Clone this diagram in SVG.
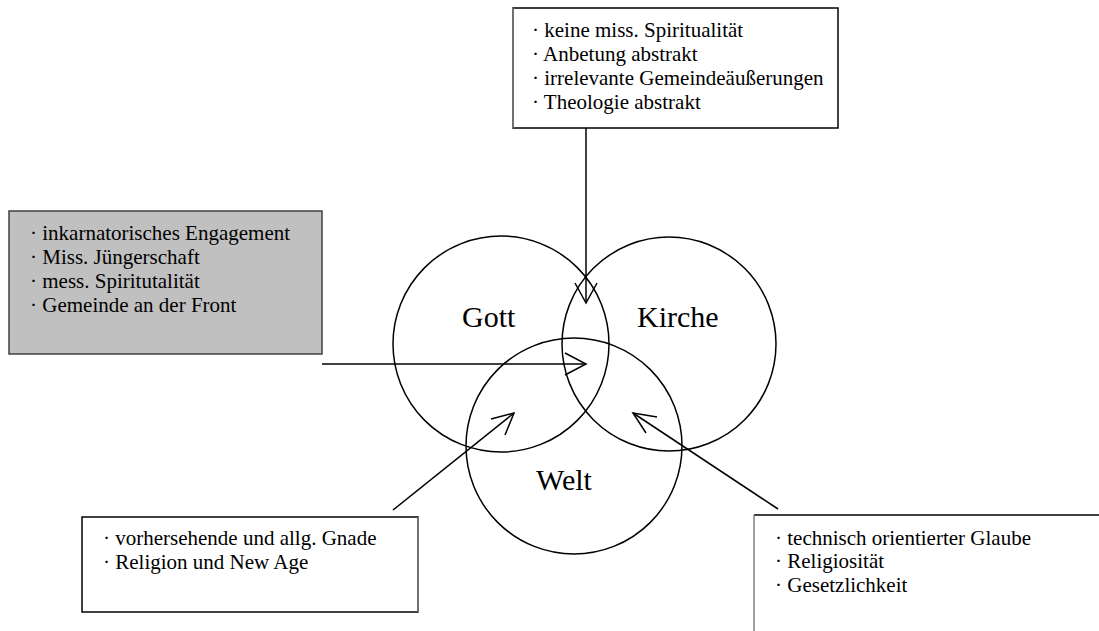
<svg xmlns="http://www.w3.org/2000/svg" width="1099" height="631" viewBox="0 0 1099 631">
<style>
.t{font-family:"Liberation Serif","Times New Roman",serif;font-size:21px;fill:#000}
.big{font-family:"Liberation Serif","Times New Roman",serif;font-size:30px;fill:#000}
.ln{stroke:#000;stroke-width:1.5;fill:none}
.gr{stroke:#808080;stroke-width:1.5;fill:none}
</style>
<rect width="1099" height="631" fill="#fff"/>
<g id="circles">
<circle cx="501" cy="344" r="108" class="ln"/>
<circle cx="669" cy="344" r="107" class="ln"/>
<circle cx="574" cy="446" r="108" class="ln"/>
<text class="big" x="462" y="327">Gott</text>
<text class="big" x="637" y="327">Kirche</text>
<text class="big" x="536" y="490">Welt</text>
</g>
<g id="box-top">
<rect x="513" y="8" width="325" height="120" fill="#fff" stroke="#000" stroke-width="1.5"/>
<line x1="513" y1="8" x2="513" y2="128" class="gr"/>
<text class="t" x="532" y="37">· keine miss. Spiritualität</text>
<text class="t" x="532" y="61">· Anbetung abstrakt</text>
<text class="t" x="532" y="85">· irrelevante Gemeindeäußerungen</text>
<text class="t" x="532" y="109">· Theologie abstrakt</text>
</g>
<g id="box-left">
<rect x="9" y="211" width="313" height="143" fill="#c0c0c0" stroke="#404040" stroke-width="1.5"/>
<text class="t" x="30" y="240">· inkarnatorisches Engagement</text>
<text class="t" x="30" y="264">· Miss. Jüngerschaft</text>
<text class="t" x="30" y="288">· mess. Spiritutalität</text>
<text class="t" x="30" y="312">· Gemeinde an der Front</text>
</g>
<g id="box-bottom-left">
<rect x="82" y="517" width="336" height="95" fill="#fff" stroke="#000" stroke-width="1.5"/>
<line x1="418" y1="517" x2="418" y2="612" class="gr"/>
<text class="t" x="103" y="545">· vorhersehende und allg. Gnade</text>
<text class="t" x="103" y="569">· Religion und New Age</text>
</g>
<g id="box-bottom-right">
<line x1="754" y1="515" x2="1099" y2="515" class="ln"/>
<line x1="754" y1="515" x2="754" y2="631" class="gr"/>
<text class="t" x="775" y="545">· technisch orientierter Glaube</text>
<text class="t" x="775" y="568">· Religiosität</text>
<text class="t" x="775" y="592">· Gesetzlichkeit</text>
</g>
<g id="connectors">
<line x1="586" y1="128" x2="586" y2="303" class="ln"/>
<polyline points="575,283 586,303 597,283" class="ln"/>
<line x1="322" y1="364" x2="586" y2="364" class="ln"/>
<polyline points="565,353 586,364 565,375" class="ln"/>
<line x1="393" y1="510" x2="514" y2="413" class="ln"/>
<polyline points="491,419 514,413 505,435" class="ln"/>
<line x1="778" y1="509" x2="633" y2="413" class="ln"/>
<polyline points="657,417 633,413 646,433" class="ln"/>
</g>
</svg>
